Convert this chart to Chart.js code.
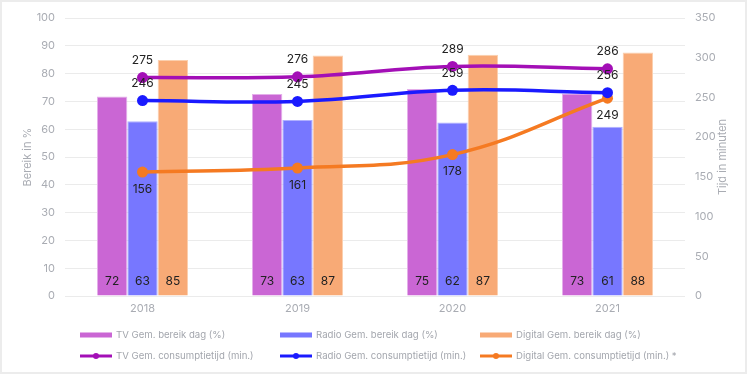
<!DOCTYPE html>
<html>
<head>
<meta charset="utf-8">
<script src="https://cdn.jsdelivr.net/npm/chart.js@4"></script>
<style>
  html, body { margin: 0; padding: 0; background: #fff; }
  #wrap { position: relative; width: 750px; height: 376px; }
  #frame { position: absolute; left: 0; top: 0; width: 747px; height: 374px; border: 2px solid #ececec; box-sizing: border-box; pointer-events: none; }
  canvas { position: absolute; left: 0; top: 0; }
</style>
</head>
<body>
<div id="wrap">
  <canvas id="c" width="750" height="376"></canvas>
  <div id="frame"></div>
</div>
<script>
const categories = ['2018', '2019', '2020', '2021'];
const tvReach = [71.8, 72.7, 74.5, 72.8];
const radioReach = [62.9, 63.3, 62.4, 60.9];
const digitalReach = [84.9, 86.5, 86.8, 87.6];
const tvTime = [275, 276, 289, 286];
const radioTime = [246, 245, 259, 256];
const digitalTime = [156, 161, 178, 249];
const seriesNames = [
  'TV Gem. bereik dag (%)', 'Radio Gem. bereik dag (%)', 'Digital Gem. bereik dag (%)',
  'TV Gem. consumptietijd (min.)', 'Radio Gem. consumptietijd (min.)', 'Digital Gem. consumptietijd (min.) *'
];
const leftTitle = 'Bereik in %';
const rightTitle = 'Tijd in minuten';

const FONT = 'Inter, "Liberation Sans", sans-serif';
const tickColor = '#a9acb3';

const labelPlugin = {
  id: 'labels',
  afterDatasetsDraw(chart) {
    const ctx = chart.ctx;
    ctx.save();
    ctx.font = '12px ' + FONT;
    ctx.fillStyle = '#222';
    ctx.textAlign = 'center';
    ctx.textBaseline = 'middle';
    chart.data.datasets.forEach((ds, i) => {
      const meta = chart.getDatasetMeta(i);
      meta.data.forEach((el, j) => {
        const v = ds.data[j];
        const txt = String(Math.round(v));
        if (ds.type === 'bar') {
          ctx.fillText(txt, el.x, el.base - 14);
        } else {
          const dy = ds.labelPos === 'below' ? 17 : -17;
          ctx.fillText(txt, el.x, el.y + dy);
        }
      });
    });
    ctx.restore();
  },
  afterDraw(chart) {
    const ctx = chart.ctx;
    ctx.save();
    // right axis title
    ctx.font = '11px ' + FONT;
    ctx.fillStyle = tickColor;
    ctx.textAlign = 'center';
    ctx.textBaseline = 'middle';
    const ca = chart.chartArea;
    ctx.translate(723, (ca.top + ca.bottom) / 2);
    ctx.rotate(-Math.PI / 2);
    ctx.fillText(rightTitle, 0, 0);
    ctx.restore();

    // legend grid
    ctx.save();
    ctx.font = '9.6px ' + FONT;
    ctx.textBaseline = 'middle';
    ctx.textAlign = 'left';
    const cols = [80, 280, 480];
    const rows = [335, 356];
    chart.data.datasets.forEach((ds, i) => {
      const x = cols[i % 3];
      const y = rows[Math.floor(i / 3)];
      if (ds.type === 'bar') {
        ctx.fillStyle = ds.backgroundColor;
        ctx.fillRect(x, y - 2.5, 32, 5);
      } else {
        ctx.strokeStyle = ds.borderColor;
        ctx.lineWidth = 3;
        ctx.beginPath();
        ctx.moveTo(x, y);
        ctx.lineTo(x + 32, y);
        ctx.stroke();
        ctx.fillStyle = ds.borderColor;
        ctx.beginPath();
        ctx.arc(x + 16, y, 3, 0, Math.PI * 2);
        ctx.fill();
      }
      ctx.fillStyle = '#a3a6ad';
      ctx.fillText(ds.label, x + 36, y);
    });
    ctx.restore();
  }
};

const barDs = (label, data, bg, border) => ({
  type: 'bar', label, data, backgroundColor: bg, borderColor: border, borderWidth: 1,
  yAxisID: 'y', order: 2, barPercentage: 1, categoryPercentage: 0.587
});
const lineDs = (label, data, color, labelPos) => ({
  type: 'line', label, data, borderColor: color, backgroundColor: color,
  borderWidth: 3.5, pointRadius: 5.5, pointHoverRadius: 5.5, pointBackgroundColor: color,
  pointBorderWidth: 0, tension: 0.4, yAxisID: 'y1', order: 0, labelPos, fill: false
});

new Chart(document.getElementById('c'), {
  data: {
    labels: categories,
    datasets: [
      barDs(seriesNames[0], tvReach, '#ca66d4', '#e4aeea'),
      barDs(seriesNames[1], radioReach, '#7777ff', '#b0b0ff'),
      barDs(seriesNames[2], digitalReach, '#f8aa76', '#fbcfae'),
      lineDs(seriesNames[3], tvTime, '#a30fb6', 'above'),
      lineDs(seriesNames[4], radioTime, '#1a1aff', 'above'),
      lineDs(seriesNames[5], digitalTime, '#f57a22', 'below')
    ]
  },
  options: {
    responsive: false,
    animation: false,
    devicePixelRatio: 1,
    layout: { padding: { top: 18, bottom: 56, left: 0, right: 0 } },
    plugins: { legend: { display: false }, tooltip: { enabled: false } },
    scales: {
      x: {
        grid: { display: false, drawTicks: false },
        border: { display: false },
        ticks: { color: tickColor, font: { family: FONT, size: 11 }, padding: 6 },
        afterFit(s) { s.height = 24; }
      },
      y: {
        position: 'left', min: 0, max: 100,
        ticks: { stepSize: 10, color: tickColor, font: { family: FONT, size: 11 }, padding: 10 },
        grid: { color: '#ebebeb', drawTicks: false, lineWidth: 1 },
        border: { display: false },
        title: { display: true, text: leftTitle, color: tickColor, font: { family: FONT, size: 11 }, padding: { top: 21, bottom: 0 } },
        afterFit(s) { s.width = 65; }
      },
      y1: {
        position: 'right', min: 0, max: 350,
        ticks: { stepSize: 50, color: tickColor, font: { family: FONT, size: 11 }, padding: 10 },
        grid: { drawOnChartArea: false, drawTicks: false },
        border: { display: false },
        afterFit(s) { s.width = 65; }
      }
    }
  },
  plugins: [labelPlugin]
});
</script>
</body>
</html>
